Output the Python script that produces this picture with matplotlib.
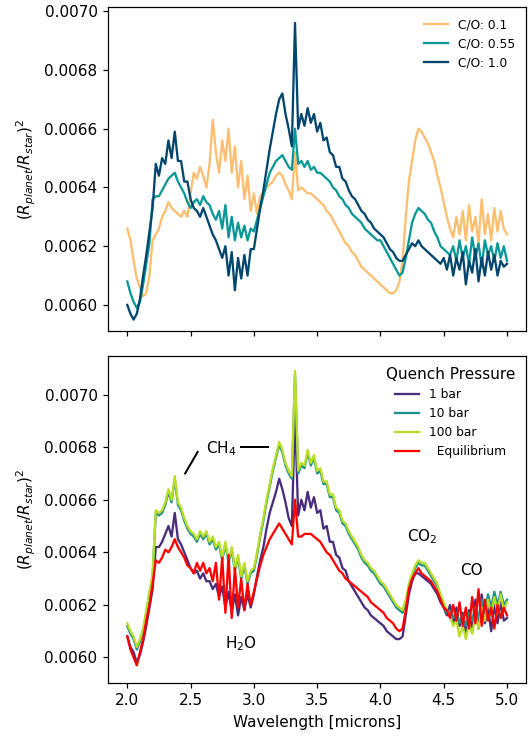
import numpy as np
import matplotlib
matplotlib.use("Agg")
import matplotlib.pyplot as plt
from matplotlib.ticker import FormatStrFormatter

# wavelength grid, 0.025 micron steps
wavelength = np.linspace(2.0, 5.0, 121)

# transit depth, in units of 1e-4 -- C/O ratio runs
co_01 = np.array([
    62.6, 62.2, 61.5, 60.9, 60.6, 60.3, 60.4, 61.0, 62.2, 62.4,
    62.6, 63.0, 63.2, 63.5, 63.3, 63.2, 63.1, 63.0, 63.2, 63.0,
    63.8, 64.5, 64.3, 64.7, 64.4, 64.0, 64.8, 66.3, 65.2, 64.5,
    65.6, 64.9, 66.0, 64.5, 65.4, 64.0, 64.9, 63.6, 64.4, 63.2,
    63.8, 63.1, 63.7, 63.8, 64.0, 64.1, 64.2, 64.4, 64.5, 64.4,
    64.1, 63.9, 63.6, 65.2, 63.9, 64.0, 63.9, 63.8, 63.8, 63.7,
    63.6, 63.5, 63.4, 63.2, 63.1, 62.9, 62.7, 62.5, 62.3, 62.1,
    62.0, 61.8, 61.7, 61.5, 61.3, 61.2, 61.1, 61.0, 60.9, 60.8,
    60.7, 60.6, 60.5, 60.4, 60.4, 60.5, 60.8, 61.5, 63.0, 64.2,
    64.9, 65.6, 66.0, 65.9, 65.7, 65.5, 65.2, 64.9, 64.4, 64.0,
    63.5, 63.0, 62.6, 62.3, 63.0, 62.4, 63.2, 62.2, 63.4, 62.5,
    63.0, 62.1, 63.6, 62.4, 63.1, 62.2, 63.3, 62.5, 63.2, 62.6,
    62.4]) * 1e-4

co_055 = np.array([
    60.8, 60.4, 60.1, 59.9, 60.1, 60.7, 61.4, 62.1, 63.6, 63.7,
    63.7, 63.9, 64.1, 64.3, 64.4, 64.5, 64.2, 64.0, 63.8, 63.5,
    63.3, 63.5, 63.6, 63.4, 63.7, 63.5, 63.4, 63.1, 62.9, 63.2,
    62.6, 63.4, 62.3, 63.0, 62.2, 62.8, 62.3, 62.7, 62.2, 62.6,
    62.5, 62.9, 63.3, 63.7, 64.1, 64.5, 64.7, 64.9, 65.0, 65.1,
    64.9, 64.7, 64.6, 66.0, 64.8, 64.9, 64.7, 64.9, 64.6, 64.7,
    64.5, 64.5, 64.4, 64.3, 64.2, 64.0, 63.9, 63.7, 63.6, 63.4,
    63.3, 63.1, 63.0, 62.9, 62.8, 62.6, 62.5, 62.4, 62.3, 62.2,
    62.2, 62.0, 61.8, 61.6, 61.4, 61.2, 61.0, 61.1, 61.6, 62.2,
    62.8, 63.1, 63.3, 63.2, 63.1, 62.9, 62.8, 62.5, 62.3, 62.0,
    61.9, 61.8, 61.7, 62.0, 61.5, 62.2, 61.6, 62.0, 61.4, 62.3,
    61.6, 62.1, 61.3, 62.2, 61.7, 62.0, 61.5, 62.1, 61.6, 62.0,
    61.5]) * 1e-4

co_10 = np.array([
    60.0, 59.7, 59.5, 59.7, 60.2, 61.0, 61.7, 62.5, 63.3, 64.8,
    64.4, 65.0, 64.8, 65.6, 65.0, 65.9, 64.9, 64.9, 64.2, 64.2,
    63.6, 63.3, 63.2, 63.0, 63.3, 63.0, 62.7, 62.4, 62.2, 61.9,
    61.6, 62.0, 61.0, 61.8, 60.5, 61.6, 60.9, 61.7, 61.0, 61.9,
    61.9, 62.6, 63.3, 63.9, 64.6, 65.3, 65.9, 66.5, 67.0, 67.2,
    66.5, 66.0, 65.4, 69.6, 66.0, 66.5, 66.1, 66.7, 66.2, 66.5,
    65.9, 66.2, 65.6, 65.7, 65.2, 65.1, 64.7, 64.7, 64.3, 64.2,
    63.9, 63.7, 63.6, 63.4, 63.2, 63.1, 62.9, 62.8, 62.6, 62.5,
    62.4, 62.3, 62.1, 61.9, 61.8, 61.6, 61.5, 61.5, 61.7, 61.9,
    62.1, 62.0, 62.2, 62.0, 61.9, 61.8, 61.7, 61.6, 61.5, 61.4,
    61.6, 61.2, 61.7, 61.0, 61.6, 61.2, 61.8, 60.7, 61.5, 61.1,
    61.9, 60.8, 61.6, 61.0, 61.8, 61.2, 61.7, 61.0, 61.5, 61.3,
    61.4]) * 1e-4

# quench pressure runs
quench_1bar = np.array([
    60.8, 60.4, 60.2, 59.8, 60.1, 60.6, 61.2, 61.9, 62.6, 64.2,
    64.2, 64.4, 64.7, 65.0, 64.6, 65.5, 64.5, 64.3, 64.0, 63.7,
    63.4, 63.2, 63.3, 63.0, 63.2, 62.9, 62.9, 62.6, 62.8, 62.3,
    62.7, 61.9, 62.5, 61.7, 62.4, 61.6, 62.3, 61.8, 62.4, 61.9,
    62.4, 63.1, 63.7, 64.2, 64.9, 65.5, 65.9, 66.3, 66.8, 66.4,
    65.9, 65.3, 65.0, 69.3, 65.4, 66.0, 65.6, 66.3, 65.7, 66.1,
    65.5, 65.6, 64.9, 65.0, 64.4, 64.4, 63.9, 63.8, 63.4, 63.3,
    62.9, 62.7, 62.5, 62.3, 62.1, 61.9, 61.8, 61.6, 61.5, 61.4,
    61.3, 61.2, 61.0, 60.9, 60.8, 60.7, 60.7, 60.8, 61.6, 62.4,
    62.9, 63.2, 63.2, 63.1, 63.0, 62.9, 62.8, 62.6, 62.4, 62.1,
    61.9, 61.6, 62.0, 61.3, 61.9, 61.2, 61.7, 60.9, 61.8, 61.0,
    62.2, 61.1, 62.4, 61.3, 61.9, 61.0, 62.0, 61.3, 62.1, 61.4,
    61.5]) * 1e-4

quench_10bar = np.array([
    61.2, 60.9, 60.7, 60.3, 60.6, 61.0, 61.7, 62.4, 63.1, 65.5,
    65.4, 65.5, 65.8, 66.3, 65.9, 66.8, 65.8, 65.6, 65.2, 64.9,
    64.7, 64.6, 64.4, 64.7, 64.5, 64.7, 64.3, 64.5, 64.1, 64.3,
    63.7, 64.3, 63.6, 64.1, 63.3, 63.8, 63.0, 63.5, 62.8, 63.2,
    63.3, 63.9, 64.6, 65.2, 65.9, 66.5, 67.1, 67.6, 68.1, 67.8,
    67.3, 67.0, 66.8, 70.8, 67.0, 67.3, 67.2, 67.8, 67.3, 67.6,
    67.0, 67.1, 66.6, 66.6, 66.1, 66.1, 65.6, 65.5, 65.1, 65.0,
    64.7, 64.5, 64.3, 64.1, 63.8, 63.6, 63.5, 63.3, 63.2, 63.0,
    62.8, 62.7, 62.5, 62.3, 62.1, 61.9, 61.8, 61.7, 62.1, 62.7,
    63.1, 63.4, 63.6, 63.5, 63.5, 63.3, 63.1, 62.9, 62.7, 62.3,
    62.0, 61.7, 61.8, 61.5, 61.7, 61.3, 61.6, 61.2, 61.7, 61.4,
    61.9, 61.5, 62.2, 61.7, 62.4, 61.9, 62.5, 62.0, 62.5, 62.0,
    62.2]) * 1e-4

quench_100bar = np.array([
    61.3, 61.0, 60.8, 60.4, 60.7, 61.1, 61.8, 62.5, 63.2, 65.6,
    65.5, 65.6, 65.9, 66.4, 66.0, 66.9, 65.9, 65.7, 65.3, 65.0,
    64.8, 64.7, 64.5, 64.8, 64.6, 64.8, 64.4, 64.6, 64.2, 64.4,
    63.8, 64.4, 63.7, 64.2, 63.4, 63.9, 63.1, 63.6, 62.9, 63.3,
    63.4, 64.0, 64.7, 65.3, 66.0, 66.6, 67.2, 67.7, 68.2, 67.9,
    67.4, 67.1, 66.9, 70.9, 67.1, 67.4, 67.3, 67.9, 67.4, 67.7,
    67.1, 67.2, 66.7, 66.7, 66.2, 66.2, 65.7, 65.6, 65.2, 65.1,
    64.8, 64.6, 64.4, 64.2, 63.9, 63.7, 63.6, 63.4, 63.3, 63.1,
    62.9, 62.8, 62.6, 62.4, 62.2, 62.0, 61.9, 61.8, 62.2, 62.8,
    63.2, 63.5, 63.7, 63.6, 63.6, 63.4, 63.2, 63.0, 62.8, 62.4,
    62.1, 61.8, 61.6, 61.2, 61.4, 60.8, 61.2, 60.7, 61.3, 60.9,
    61.6, 61.1, 61.9, 61.4, 62.2, 61.6, 62.3, 61.7, 62.4, 61.8,
    62.1]) * 1e-4

equilibrium = np.array([
    60.8, 60.3, 60.0, 59.7, 60.2, 60.7, 61.4, 62.0, 62.8, 63.7,
    63.6, 63.8, 64.1, 64.0, 64.2, 64.5, 64.2, 64.0, 63.8, 63.5,
    63.4, 63.2, 63.6, 63.3, 63.6, 63.2, 63.4, 62.9, 63.6, 62.2,
    63.8, 61.7, 63.9, 61.5, 63.4, 61.9, 63.0, 61.8, 62.8, 62.0,
    62.5, 63.0, 63.5, 63.9, 64.2, 64.5, 64.7, 64.9, 65.1, 64.9,
    64.7, 64.5, 64.3, 66.0, 64.6, 64.6, 64.7, 64.7, 64.7, 64.6,
    64.5, 64.4, 64.2, 64.0, 63.9, 63.7, 63.5, 63.3, 63.2, 63.0,
    62.9, 62.8, 62.7, 62.6, 62.5, 62.4, 62.3, 62.1, 62.0, 61.9,
    61.8, 61.7, 61.5, 61.4, 61.3, 61.1, 61.0, 61.1, 61.8, 62.6,
    63.0, 63.2, 63.4, 63.2, 63.1, 63.0, 62.9, 62.7, 62.5, 62.2,
    61.9, 61.8, 61.5, 62.0, 61.4, 62.1, 61.2, 61.9, 61.1, 62.3,
    61.3, 62.6, 61.2, 62.2, 61.4, 61.9, 61.1, 62.0, 61.5, 61.9,
    61.6]) * 1e-4

co_labels = ["C/O: 0.1", "C/O: 0.55", "C/O: 1.0"]
co_colors = ["#fdbf6f", "#0a9797", "#02466d"]
quench_labels = ["1 bar", "10 bar", "100 bar", "  Equilibrium"]
quench_colors = ["#472d7b", "#21918c", "#bade28", "red"]

fig = plt.figure(figsize=(532 / 110, 740 / 110), dpi=110)
ax1 = fig.add_axes([0.2036, 0.553, 0.7851, 0.437])
ax2 = fig.add_axes([0.2036, 0.0774, 0.7851, 0.4416], sharex=ax1)

for spec, lab, col in zip([co_01, co_055, co_10], co_labels, co_colors):
    ax1.plot(wavelength, spec, color=col, label=lab, lw=1.5)

for spec, lab, col in zip([quench_1bar, quench_10bar, quench_100bar, equilibrium],
                          quench_labels, quench_colors):
    ax2.plot(wavelength, spec, color=col, label=lab, lw=1.5)

ylab = r"$(R_{planet}/R_{star})^2$"
for ax in (ax1, ax2):
    ax.set_ylabel(ylab)
    ax.set_yticks(np.arange(0.0060, 0.00701, 0.0002))
    ax.yaxis.set_major_formatter(FormatStrFormatter("%.4f"))

ax1.set_xlim(1.85, 5.15)
ax1.set_xticks(np.arange(2.0, 5.01, 0.5))
ax1.tick_params(labelbottom=False)
ax1.set_ylim(0.005912, 0.007013)
ax2.set_ylim(0.005904, 0.007147)
ax2.set_xlabel("Wavelength [microns]")

ax1.legend(loc="upper right", frameon=False, fontsize=8)
ax2.legend(loc="upper right", frameon=False, fontsize=8,
           title="Quench Pressure", title_fontsize=10)

# molecule labels
ax2.text(2.74, 0.006795, "CH$_4$", ha="center", va="center", fontsize=10)
ax2.plot([2.457, 2.556], [0.00670, 0.006782], color="k", lw=1.3)
ax2.plot([2.90, 3.11], [0.00680, 0.00680], color="k", lw=1.3)
ax2.text(2.90, 0.006054, "H$_2$O", ha="center", va="center", fontsize=10)
ax2.text(4.33, 0.006459, "CO$_2$", ha="center", va="center", fontsize=10)
ax2.text(4.717, 0.006332, "CO", ha="center", va="center", fontsize=10)

fig.savefig("out.png", dpi=110)
